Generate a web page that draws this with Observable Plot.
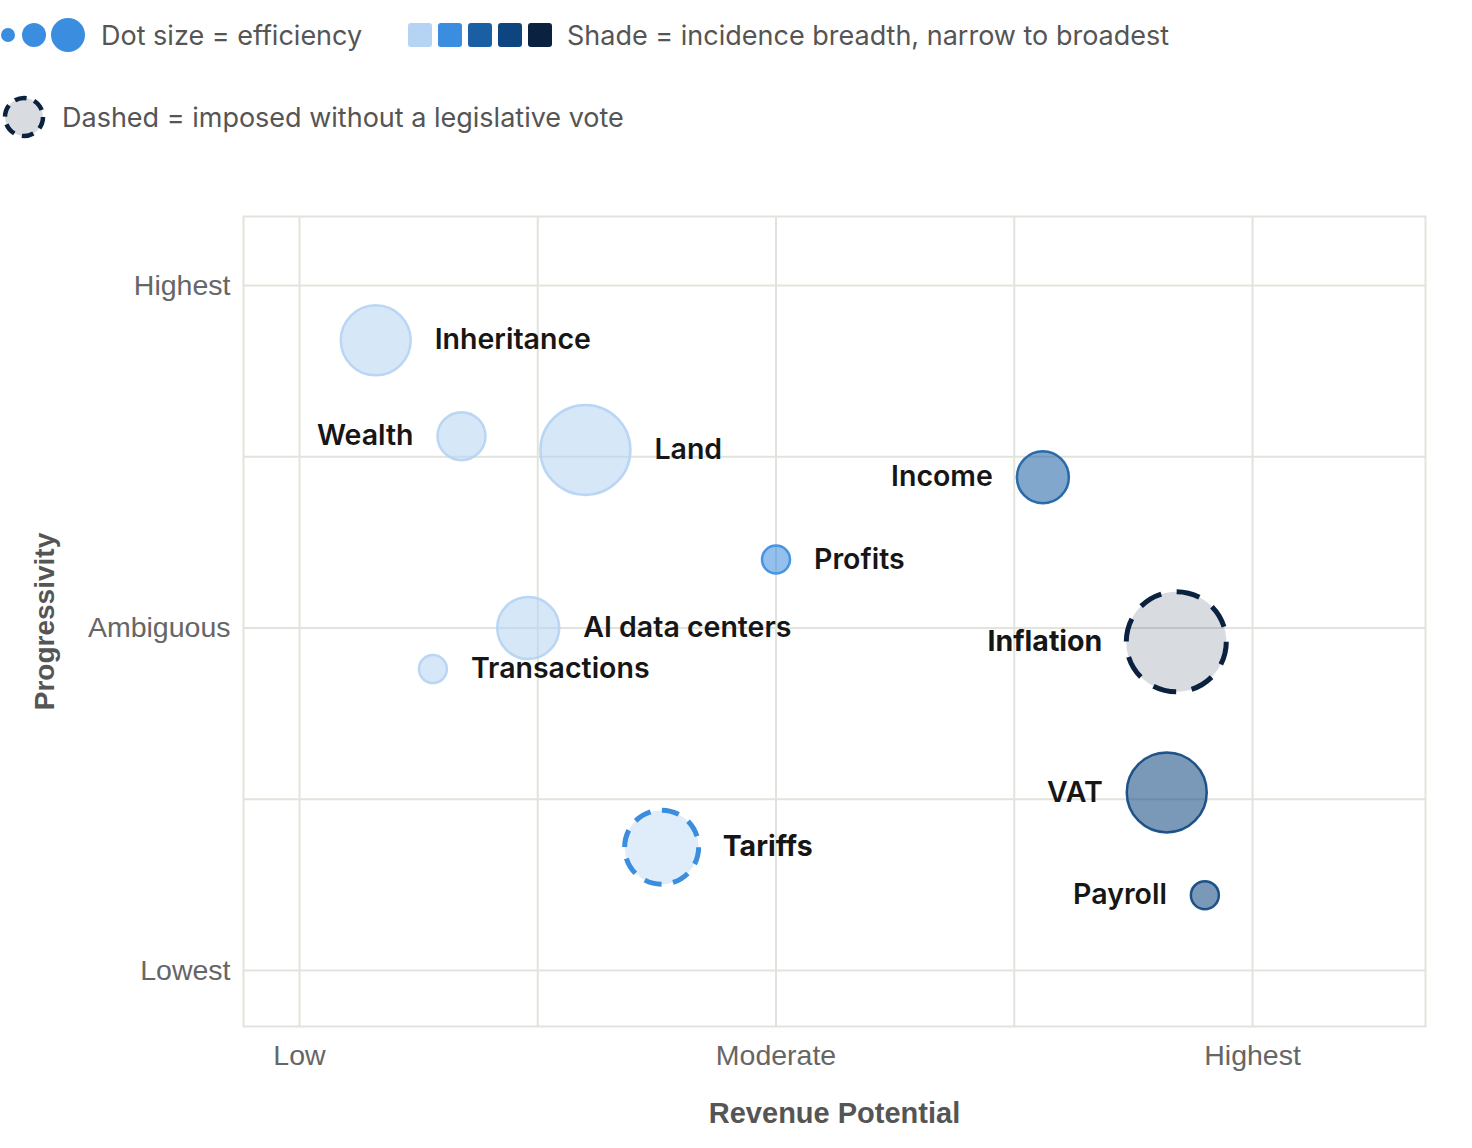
<!DOCTYPE html>
<html><head><meta charset="utf-8">
<script src="https://cdn.jsdelivr.net/npm/d3@7"></script>
<script src="https://cdn.jsdelivr.net/npm/@observablehq/plot@0.6"></script>
<style>
body{margin:0;background:#fff;font-family:Inter,"Noto Sans",sans-serif;}
#legend{position:relative;height:160px;width:1472px;}
#legend svg{position:absolute;left:0;top:0;}
.lt{position:absolute;font-size:27px;color:#555;line-height:1;white-space:nowrap;transform:translateY(-50%);}
#chart svg{display:block;}
</style></head><body>
<div id="legend">
  <svg width="1472" height="160">
    <circle cx="8" cy="35" r="7" fill="#3a8ddf"/>
    <circle cx="34" cy="35" r="12" fill="#3a8ddf"/>
    <circle cx="68" cy="35" r="17" fill="#3a8ddf"/>
    <g id="sq"></g>
    <circle cx="24" cy="117" r="19" fill="#d8dce1" stroke="#0a2240" stroke-width="4.5" stroke-dasharray="12 7.9"/>
  </svg>
  <div class="lt" style="left:101px;top:35px">Dot size = efficiency</div>
  <div class="lt" style="left:567px;top:35px">Shade = incidence breadth, narrow to broadest</div>
  <div class="lt" style="left:62px;top:117px">Dashed = imposed without a legislative vote</div>
</div>
<div id="chart"></div>
<script>
const taxes = ["Inheritance","Wealth","Land","Income","Profits","AI data centers","Transactions","Inflation","VAT","Tariffs","Payroll"];
const revenue = [0.32,0.68,1.20,3.12,2.00,0.96,0.56,3.68,3.64,1.52,3.80];
const progressivity = [3.68,3.12,3.04,2.88,2.40,2.00,1.76,1.92,1.04,0.72,0.44];
const efficiency = [7.0,4.8,9.0,5.2,2.8,6.2,2.8,10.0,8.0,7.4,2.8];
const breadth = [1,1,1,3,2,1,1,5,4,2,4];
const noVote = [false,false,false,false,false,false,false,true,false,true,false];
const labelSide = ["right","left","right","left","right","right","right","left","left","right","left"];
const shades = ["#b5d3f3","#3a8ddf","#1a5fa3","#0d4580","#0a2240"];
const breadthLevels = [1,2,3,4,5];
const xTicks = [0,2,4];
const xTickLabels = ["Low","Moderate","Highest"];
const yTicks = [0,2,4];
const yTickLabels = ["Lowest","Ambiguous","Highest"];
const gridValues = [0,1,2,3,4];

// legend squares
const sq = document.getElementById("sq");
shades.forEach((c,i)=>{
  const r = document.createElementNS("http://www.w3.org/2000/svg","rect");
  r.setAttribute("x", 408 + i*30); r.setAttribute("y", 23);
  r.setAttribute("width", 24); r.setAttribute("height", 24);
  r.setAttribute("rx", 3); r.setAttribute("fill", c);
  sq.appendChild(r);
});

const data = taxes.map((name,i)=>({name, rev:revenue[i], prog:progressivity[i], eff:efficiency[i],
  breadth:breadth[i], noVote:noVote[i], side:labelSide[i]}));

const rOpts = {type:"linear", domain:[0,10], range:[0,50]};
const rScale = Plot.scale({r: rOpts});
const grid = "#e3e3dd";

const labels = data.map(d => Plot.text([d], {
  x:"rev", y:"prog", text:"name",
  textAnchor: d.side === "right" ? "start" : "end",
  dx: (d.side === "right" ? 1 : -1) * (rScale.apply(d.eff) + 24),
  fontSize: 28.5, fontWeight: d.noVote ? 700 : 600, fontFamily: "Inter",
  fill: "#161616", lineAnchor: "middle"
}));

const dashedDots = data.filter(d => d.noVote).map(d => {
  const period = 2 * Math.PI * rScale.apply(d.eff) / 8;
  return Plot.dot([d], {x: "rev", y: "prog", r: "eff",
    fill: "breadth", fillOpacity: 0.16, stroke: "breadth", strokeWidth: 5,
    strokeDasharray: `${(period * 0.6).toFixed(2)} ${(period * 0.4).toFixed(2)}`});
});

const chart = Plot.plot({
  width: 1472, height: 988,
  marginLeft: 243, marginRight: 47, marginTop: 56, marginBottom: 122,
  style: {fontFamily: "Liberation Sans", background: "#fff"},
  x: {domain: [-0.235, 4.726]},
  y: {domain: [-0.327, 4.403]},
  r: rOpts,
  color: {type: "ordinal", domain: breadthLevels, range: shades},
  marks: [
    Plot.gridX(gridValues, {stroke: grid, strokeOpacity: 1, strokeWidth: 2}),
    Plot.gridY(gridValues, {stroke: grid, strokeOpacity: 1, strokeWidth: 2}),
    Plot.frame({stroke: grid, strokeWidth: 2}),
    Plot.axisX(xTicks, {tickSize: 0, tickPadding: 18, fontSize: 28.5, fill: "#666",
      tickFormat: d => xTickLabels[xTicks.indexOf(d)], label: null}),
    Plot.axisY(yTicks, {tickSize: 0, tickPadding: 13, fontSize: 28.5, fill: "#666",
      tickFormat: d => yTickLabels[yTicks.indexOf(d)], label: null}),
    Plot.text(["Revenue Potential"], {frameAnchor: "bottom", dy: 87, lineAnchor: "middle",
      fontSize: 29, fontWeight: 700, fill: "#555"}),
    Plot.text(["Progressivity"], {frameAnchor: "left", dx: -198, rotate: -90, lineAnchor: "middle",
      textAnchor: "middle", fontSize: 28, fontWeight: 700, fill: "#555"}),
    Plot.dot(data.filter(d => !d.noVote), {x: "rev", y: "prog", r: "eff",
      fill: "breadth", fillOpacity: 0.55, stroke: "breadth", strokeOpacity: 0.9, strokeWidth: 2.5}),
    ...dashedDots,
    ...labels
  ]
});
document.getElementById("chart").appendChild(chart);
</script>
</body></html>
